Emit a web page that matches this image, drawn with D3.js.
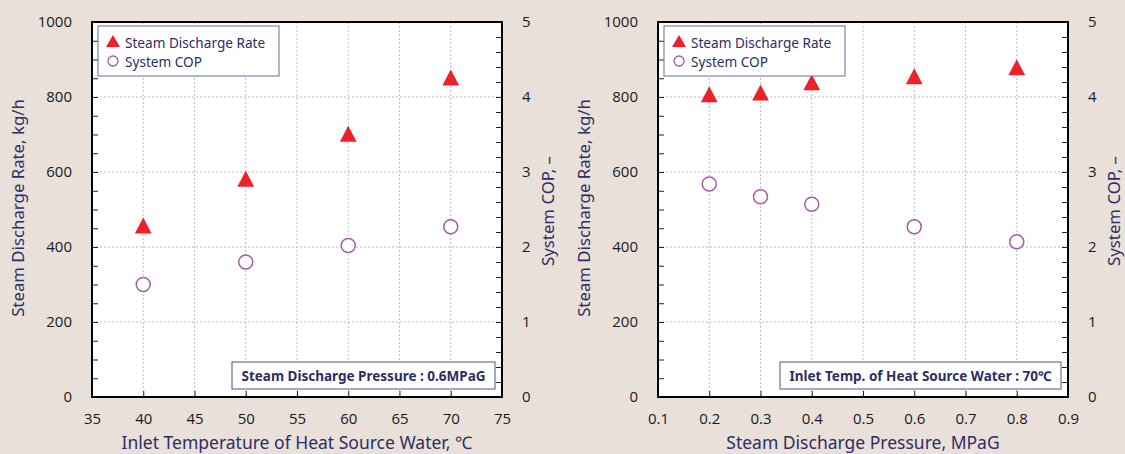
<!DOCTYPE html>
<html>
<head>
<meta charset="utf-8">
<script src="https://cdn.jsdelivr.net/npm/d3@7"></script>
<style>
  body { margin: 0; background: #e8e0d9; }
  svg { display: block; }
</style>
</head>
<body>
<svg id="chart" width="1125" height="454"></svg>
<script>
// left panel: vs inlet temperature of heat source water
const tempX = [40, 50, 60, 70];
const tempSteam = [450, 575, 695, 845];
const tempCop = [1.5, 1.8, 2.02, 2.27];
const tempTicks = [35, 40, 45, 50, 55, 60, 65, 70, 75];

// right panel: vs steam discharge pressure
const presX = [0.2, 0.3, 0.4, 0.6, 0.8];
const presSteam = [800, 805, 832, 848, 872];
const presCop = [2.84, 2.67, 2.57, 2.27, 2.07];
const presTicks = [0.1, 0.2, 0.3, 0.4, 0.5, 0.6, 0.7, 0.8, 0.9];

const steamTicks = [0, 200, 400, 600, 800, 1000];
const copTicks = [0, 1, 2, 3, 4, 5];
const legendLabels = ["Steam Discharge Rate", "System COP"];

const navy = "#2e2d66";
const red = "#ee2029";
const purple = "#a65aa8";
const tickFont = "Open Sans, Liberation Sans, sans-serif";
const titleFont = "Noto Sans, DejaVu Sans, sans-serif";

const svg = d3.select("#chart");
const plotTop = 22, plotBottom = 397;

function panel(opt) {
  const g = svg.append("g");
  const x = d3.scaleLinear().domain(opt.xDomain).range([opt.left, opt.right]);
  const yL = d3.scaleLinear().domain([0, 1000]).range([plotBottom, plotTop]);
  const yR = d3.scaleLinear().domain([0, 5]).range([plotBottom, plotTop]);

  g.append("rect")
    .attr("x", opt.left).attr("y", plotTop)
    .attr("width", opt.right - opt.left).attr("height", plotBottom - plotTop)
    .attr("fill", "#fff");

  // grid
  g.selectAll(".vg").data(opt.xTicks.slice(1, -1)).enter().append("line")
    .attr("x1", d => x(d)).attr("x2", d => x(d))
    .attr("y1", plotTop).attr("y2", plotBottom)
    .attr("stroke", "#bdbdbd").attr("stroke-dasharray", "2,2");
  g.selectAll(".hg").data(steamTicks.slice(1, -1)).enter().append("line")
    .attr("x1", opt.left).attr("x2", opt.right)
    .attr("y1", d => yL(d)).attr("y2", d => yL(d))
    .attr("stroke", "#bdbdbd").attr("stroke-dasharray", "2,2");

  // axes, ticks drawn inward
  const axB = g.append("g").attr("transform", `translate(0,${plotBottom})`)
    .call(d3.axisBottom(x).tickValues(opt.xTicks).tickSize(-6).tickPadding(16)
      .tickFormat(d3.format(opt.fmt)));
  const axL = g.append("g").attr("transform", `translate(${opt.left},0)`)
    .call(d3.axisLeft(yL).tickValues(d3.range(0, 1001, 50)).tickSize(-6).tickPadding(20)
      .tickFormat(d => d % 200 === 0 ? d : ""));
  const axR = g.append("g").attr("transform", `translate(${opt.right},0)`)
    .call(d3.axisRight(yR).tickValues(d3.range(0, 26).map(i => i * 0.2)).tickSize(-6).tickPadding(20)
      .tickFormat(d => Math.abs(d - Math.round(d)) < 1e-6 ? Math.round(d) : ""));
  [axB, axL, axR].forEach(a => {
    a.select(".domain").remove();
    a.selectAll("line").attr("stroke", "#222");
    a.selectAll("text").attr("font-family", tickFont).attr("font-size", 15).attr("fill", "#1a1a1a");
  });

  // frame
  g.append("rect")
    .attr("x", opt.left).attr("y", plotTop)
    .attr("width", opt.right - opt.left).attr("height", plotBottom - plotTop)
    .attr("fill", "none").attr("stroke", "#000").attr("stroke-width", 2);

  // markers
  const tri = d3.symbol().type(d3.symbolTriangle).size(135);
  g.selectAll(".tri").data(opt.xs).enter().append("path")
    .attr("d", tri)
    .attr("transform", (d, i) => `translate(${x(d)},${yL(opt.steam[i])}) scale(0.95,1.05)`)
    .attr("fill", red);
  g.selectAll(".cop").data(opt.xs).enter().append("circle")
    .attr("cx", d => x(d)).attr("cy", (d, i) => yR(opt.cop[i]))
    .attr("r", 7)
    .attr("fill", "#fff").attr("stroke", purple).attr("stroke-width", 1.5);

  // legend
  const lg = g.append("g").attr("transform", `translate(${opt.left + 6},26)`);
  lg.append("rect").attr("width", opt.legW).attr("height", 50)
    .attr("fill", "#fff").attr("stroke", "#6a6a96").attr("stroke-width", 1);
  lg.append("path").attr("d", d3.symbol().type(d3.symbolTriangle).size(85))
    .attr("transform", "translate(15,17)").attr("fill", red);
  lg.append("circle").attr("cx", 15).attr("cy", 35).attr("r", 5)
    .attr("fill", "#fff").attr("stroke", purple).attr("stroke-width", 1.3);
  lg.selectAll("text").data(legendLabels).enter().append("text")
    .attr("x", 27).attr("y", (d, i) => 21.5 + i * 19)
    .attr("font-family", titleFont).attr("font-size", 13.6).attr("fill", navy)
    .text(d => d);

  // condition box
  const nb = g.append("g");
  nb.append("rect").attr("x", opt.noteX).attr("y", 362)
    .attr("width", opt.noteW).attr("height", 27)
    .attr("fill", "#fff").attr("stroke", "#52528a").attr("stroke-width", 1);
  nb.append("text").attr("x", opt.noteX + opt.noteW / 2).attr("y", 381)
    .attr("text-anchor", "middle")
    .attr("font-family", titleFont).attr("font-size", 13.5).attr("font-weight", "bold")
    .attr("fill", navy).text(opt.note);

  // axis titles
  g.append("text").attr("x", (opt.left + opt.right) / 2).attr("y", 449)
    .attr("text-anchor", "middle").attr("font-family", titleFont)
    .attr("font-size", 17.5).attr("fill", navy).text(opt.xTitle);
  g.append("text")
    .attr("transform", `translate(${opt.left - 68},208) rotate(-90)`)
    .attr("text-anchor", "middle").attr("font-family", titleFont)
    .attr("font-size", 16.8).attr("fill", navy).text("Steam Discharge Rate, kg/h");
  g.append("text")
    .attr("transform", `translate(${opt.right + 52},211) rotate(-90)`)
    .attr("text-anchor", "middle").attr("font-family", titleFont)
    .attr("font-size", 16.8).attr("fill", navy).text("System COP, \u2013");
}

panel({
  left: 92, right: 502, xDomain: [35, 75], xTicks: tempTicks, fmt: "d",
  xs: tempX, steam: tempSteam, cop: tempCop, legW: 181,
  noteX: 232, noteW: 263, note: "Steam Discharge Pressure : 0.6MPaG",
  xTitle: "Inlet Temperature of Heat Source Water, \u2103"
});
panel({
  left: 658, right: 1068, xDomain: [0.1, 0.9], xTicks: presTicks, fmt: ".1f",
  xs: presX, steam: presSteam, cop: presCop, legW: 181,
  noteX: 780, noteW: 281, note: "Inlet Temp. of Heat Source Water : 70\u2103",
  xTitle: "Steam Discharge Pressure, MPaG"
});
</script>
</body>
</html>
